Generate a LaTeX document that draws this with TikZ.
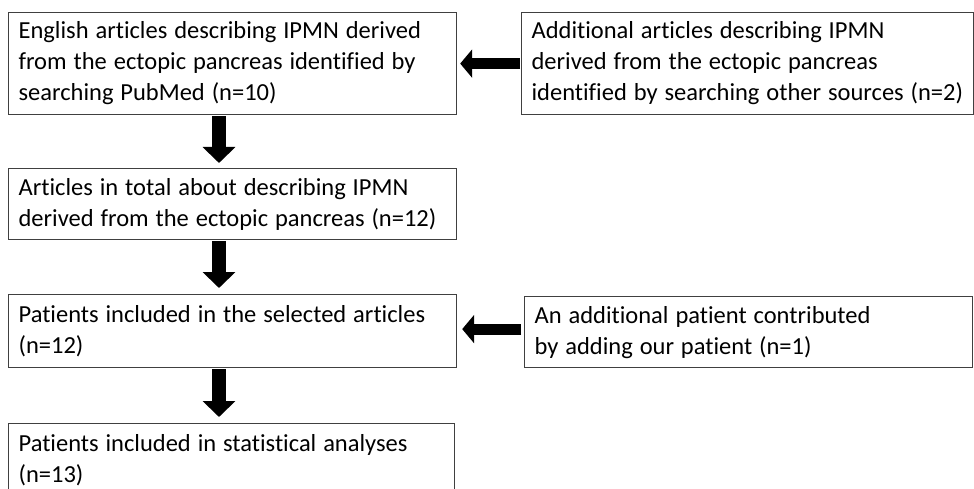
\documentclass[tikz,border=0pt]{standalone}
\usepackage{fontspec}
\setmainfont{Carlito}[Ligatures=NoCommon,WordSpace=1.25]
\usepackage{tikz}
\usetikzlibrary{calc}
\usetikzlibrary{arrows.meta}

\tikzset{
	entry/.style={draw=black!75,line width=1.2pt,align=flush left,anchor=north west,inner xsep=10pt,inner ysep=0pt,font=\fontsize{24.5}{31}\selectfont},
	flow/.style={line width=14pt,-{Triangle[width=32pt,length=16pt]}},
	feed/.style={line width=11pt,-{Triangle[width=28pt,length=12pt]}}
}

\begin{document}
\begin{tikzpicture}[x=1pt,y=-1pt]
	\useasboundingbox (0,0) rectangle (974,489);% page as large as the reference
	% left column
	\node[entry,text width=428pt,minimum height=102pt] (pubmed) at (8,12) {English articles describing IPMN derived\\from the ectopic pancreas identified by\\searching PubMed (n=10)};
	\node[entry,text width=428pt,minimum height=71pt] (total) at (8,168) {Articles in total about describing IPMN\\derived from the ectopic pancreas (n=12)};
	\node[entry,text width=428pt,minimum height=73pt] (selected) at (8,294) {Patients included in the selected articles\\(n=12)};
	\node[entry,text width=426pt,minimum height=74pt] (analyses) at (8,423) {Patients included in statistical analyses\\(n=13)};
	% right column
	\node[entry,minimum height=102pt] (other) at (521,12) {Additional articles describing IPMN\\derived from the ectopic pancreas\\identified by searching other sources (n=2)};
	\node[entry,text width=428pt,minimum height=71pt] (ours) at (524,296) {An additional patient contributed\\by adding our patient (n=1)};
	% arrows down
	\draw[flow,shorten <=1pt,shorten >=5pt] (pubmed.south -| 219,0) -- (total.north -| 219,0);
	\draw[flow,shorten <=1pt,shorten >=6pt] (total.south -| 219,0) -- (selected.north -| 219,0);
	\draw[flow,shorten <=1pt,shorten >=6pt] (selected.south -| 219,0) -- (analyses.north -| 219,0);
	% arrows from the right
	\draw[feed,shorten <=1pt,shorten >=3pt] (other.west) -- (other.west -| pubmed.east);
	\draw[feed,shorten <=3pt,shorten >=5pt] ($(ours.west)+(0,-3)$) -- ($(ours.west -| selected.east)+(0,-3)$);
\end{tikzpicture}
\end{document}
